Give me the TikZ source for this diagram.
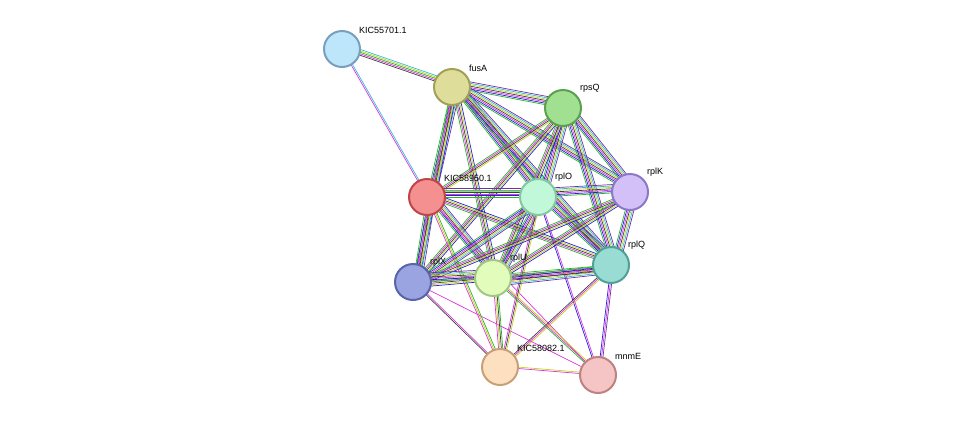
\documentclass[tikz,border=0pt]{standalone}
\usepackage{fontspec}
\setmainfont{Liberation Sans}
\usetikzlibrary{calc}
\definecolor{eg}{HTML}{22B822}
\definecolor{eb}{HTML}{2222DD}
\definecolor{em}{HTML}{DD33DD}
\definecolor{ek}{HTML}{404040}
\definecolor{ey}{HTML}{C8D020}
\definecolor{ec}{HTML}{33BBDD}
\definecolor{ep}{HTML}{7030A0}
\newcommand{\bund}[3]{%
  \edef\mylst{#3}%
  \foreach \c [count=\i] in \mylst {
    \pgfmathsetmacro{\off}{(\i-1)*1.4}
    \draw[draw=\c, line width=0.7pt] ($(#1)!\off pt!90:(#2)$) -- ($(#2)!\off pt!-90:(#1)$);
  }}
\tikzset{prot/.style={circle, minimum size=36pt, inner sep=0pt, line width=2pt},
  lab/.style={font=\fontsize{9}{10}\selectfont, anchor=south west, inner sep=1pt}}
\begin{document}
\begin{tikzpicture}[x=1pt,y=-1pt]
\useasboundingbox (0,0) rectangle (976,421);
\coordinate (A) at (342,49);
\coordinate (F) at (452,87);
\coordinate (S) at (563,108);
\coordinate (K5) at (427,197);
\coordinate (O) at (538,197);
\coordinate (K) at (630,192);
\coordinate (Q) at (611,265);
\coordinate (X) at (413,282);
\coordinate (U) at (493,278);
\coordinate (K8) at (500,367);
\coordinate (M) at (598,375);
\def\full{eg,eb,em,ek,ey,ec,ep}
\def\mid{eg,em,ek,ey,eb}
\bund{A}{F}{ek,em,eg,ey,ec}
\bund{A}{K5}{em,ec}
\bund{F}{S}{\full}
\bund{F}{K5}{\full}
\bund{F}{O}{\full}
\bund{F}{K}{\full}
\bund{F}{Q}{\full}
\bund{F}{X}{\mid}
\bund{F}{U}{\mid}
\bund{S}{K5}{eg,em,ek,ey}
\bund{S}{O}{\full}
\bund{S}{K}{\full}
\bund{S}{Q}{\full}
\bund{S}{X}{\mid}
\bund{S}{U}{\mid}
\bund{K5}{O}{\full}
\bund{K5}{Q}{\mid}
\bund{K5}{X}{\full}
\bund{K5}{U}{\full}
\bund{K5}{K8}{em,ey,eg}
\bund{K5}{M}{em}
\bund{O}{K}{\full}
\bund{O}{Q}{\full}
\bund{O}{X}{\full}
\bund{O}{U}{\full}
\bund{O}{K8}{em,ek,ey}
\bund{O}{M}{eb,em}
\bund{K}{Q}{\full}
\bund{K}{X}{\mid}
\bund{K}{U}{\mid}
\bund{Q}{X}{\mid}
\bund{Q}{U}{\full}
\bund{Q}{M}{eb,em,ep}
\bund{Q}{K8}{ek,em,ey}
\bund{X}{U}{\full}
\bund{X}{K8}{ek,em}
\bund{X}{M}{em}
\bund{U}{K8}{em,ey,ek,eg}
\bund{U}{M}{eg,em,ey}
\bund{K8}{M}{em,ey}
\node[prot, fill={rgb,255:red,190;green,230;blue,250}, draw={rgb,255:red,120;green,160;blue,190}] (nA) at (A) {};
\node[prot, fill={rgb,255:red,222;green,222;blue,154}, draw={rgb,255:red,160;green,160;blue,90}] (nF) at (F) {};
\node[prot, fill={rgb,255:red,160;green,224;blue,144}, draw={rgb,255:red,90;green,160;blue,80}] (nS) at (S) {};
\node[prot, fill={rgb,255:red,245;green,144;blue,144}, draw={rgb,255:red,190;green,70;blue,70}] (nK5) at (K5) {};
\node[prot, fill={rgb,255:red,194;green,248;blue,218}, draw={rgb,255:red,130;green,200;blue,160}] (nO) at (O) {};
\node[prot, fill={rgb,255:red,212;green,192;blue,248}, draw={rgb,255:red,140;green,120;blue,200}] (nK) at (K) {};
\node[prot, fill={rgb,255:red,152;green,220;blue,212}, draw={rgb,255:red,80;green,160;blue,150}] (nQ) at (Q) {};
\node[prot, fill={rgb,255:red,154;green,164;blue,224}, draw={rgb,255:red,90;green,100;blue,170}] (nX) at (X) {};
\node[prot, fill={rgb,255:red,226;green,252;blue,188}, draw={rgb,255:red,160;green,200;blue,130}] (nU) at (U) {};
\node[prot, fill={rgb,255:red,253;green,224;blue,192}, draw={rgb,255:red,200;green,160;blue,120}] (nK8) at (K8) {};
\node[prot, fill={rgb,255:red,245;green,196;blue,196}, draw={rgb,255:red,190;green,130;blue,130}] (nM) at (M) {};
\node[lab] at (358,35) {KIC55701.1};
\node[lab] at (468,73) {fusA};
\node[lab] at (579,94) {rpsQ};
\node[lab] at (443,183) {KIC58950.1};
\node[lab] at (554,183) {rplO};
\node[lab] at (646,178) {rplK};
\node[lab] at (627,251) {rplQ};
\node[lab] at (429,268) {rplX};
\node[lab] at (509,264) {rplU};
\node[lab] at (516,353) {KIC58082.1};
\node[lab] at (614,361) {mnmE};
\end{tikzpicture}
\end{document}
